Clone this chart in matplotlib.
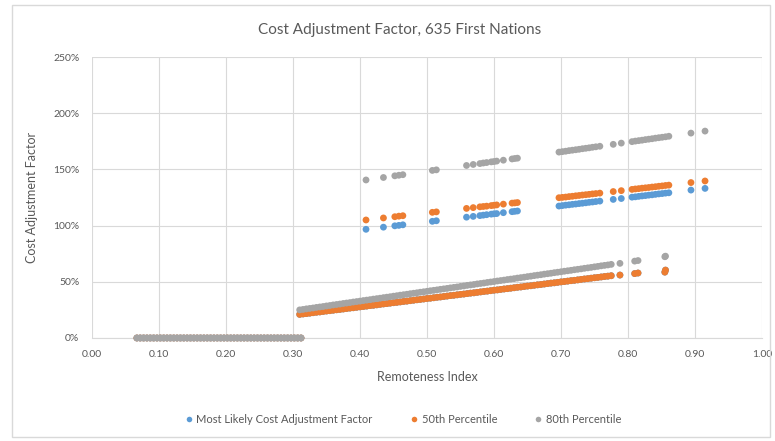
import matplotlib
matplotlib.use("Agg")
import matplotlib.pyplot as plt
from matplotlib.lines import Line2D
from matplotlib.patches import Rectangle
from matplotlib.ticker import FuncFormatter

plt.rcParams['font.family'] = ['Lato', 'DejaVu Sans']

TITLE = "Cost Adjustment Factor, 635 First Nations"
X_LABEL = "Remoteness Index"
Y_LABEL = "Cost Adjustment Factor"
SERIES = ["Most Likely Cost Adjustment Factor", "50th Percentile", "80th Percentile"]
COLORS = ["#5B9BD5", "#ED7D31", "#A5A5A5"]

# communities with remoteness index below ~0.31 -> factor 0%
x_zero = [0.067, 0.072, 0.077, 0.082, 0.087, 0.092, 0.097, 0.102, 0.107, 0.112,
          0.117, 0.122, 0.127, 0.132, 0.137, 0.142, 0.147, 0.152, 0.157, 0.162,
          0.167, 0.172, 0.177, 0.182, 0.187, 0.192, 0.197, 0.202, 0.207, 0.212,
          0.217, 0.222, 0.227, 0.232, 0.237, 0.242, 0.247, 0.252, 0.257, 0.262,
          0.267, 0.272, 0.277, 0.282, 0.287, 0.292, 0.297, 0.302, 0.307, 0.312]
y_zero = [0.0] * len(x_zero)

# dense lower band (values in %)
x_low = [0.310, 0.315, 0.320, 0.325, 0.330, 0.335, 0.340, 0.345, 0.350, 0.355,
         0.360, 0.365, 0.370, 0.375, 0.380, 0.385, 0.390, 0.395, 0.400, 0.405,
         0.410, 0.415, 0.420, 0.425, 0.430, 0.435, 0.440, 0.445, 0.450, 0.455,
         0.460, 0.465, 0.470, 0.475, 0.480, 0.485, 0.490, 0.495, 0.500, 0.505,
         0.510, 0.515, 0.520, 0.525, 0.530, 0.535, 0.540, 0.545, 0.550, 0.555,
         0.560, 0.565, 0.570, 0.575, 0.580, 0.585, 0.590, 0.595, 0.600, 0.605,
         0.610, 0.615, 0.620, 0.625, 0.630, 0.635, 0.640, 0.645, 0.650, 0.655,
         0.660, 0.665, 0.670, 0.675, 0.680, 0.685, 0.690, 0.695, 0.700, 0.705,
         0.710, 0.715, 0.720, 0.725, 0.730, 0.735, 0.740, 0.745, 0.750, 0.755,
         0.760, 0.765, 0.770, 0.775,
         0.788, 0.810, 0.815, 0.855, 0.856]
p50_low = [21.0, 21.4, 21.7, 22.1, 22.5, 22.9, 23.2, 23.6, 24.0, 24.3,
           24.7, 25.1, 25.4, 25.8, 26.2, 26.6, 26.9, 27.3, 27.7, 28.0,
           28.4, 28.8, 29.1, 29.5, 29.9, 30.3, 30.6, 31.0, 31.4, 31.7,
           32.1, 32.5, 32.8, 33.2, 33.6, 34.0, 34.3, 34.7, 35.1, 35.4,
           35.8, 36.2, 36.5, 36.9, 37.3, 37.7, 38.0, 38.4, 38.8, 39.1,
           39.5, 39.9, 40.2, 40.6, 41.0, 41.4, 41.7, 42.1, 42.5, 42.8,
           43.2, 43.6, 43.9, 44.3, 44.7, 45.1, 45.4, 45.8, 46.2, 46.5,
           46.9, 47.3, 47.6, 48.0, 48.4, 48.8, 49.1, 49.5, 49.9, 50.2,
           50.6, 51.0, 51.3, 51.7, 52.1, 52.5, 52.8, 53.2, 53.6, 53.9,
           54.3, 54.7, 55.0, 55.4,
           56.0, 57.3, 57.8, 58.6, 60.4]
p80_low = [25.0, 25.4, 25.9, 26.3, 26.7, 27.2, 27.6, 28.0, 28.5, 28.9,
           29.4, 29.8, 30.2, 30.7, 31.1, 31.5, 32.0, 32.4, 32.8, 33.3,
           33.7, 34.1, 34.6, 35.0, 35.4, 35.9, 36.3, 36.7, 37.2, 37.6,
           38.1, 38.5, 38.9, 39.4, 39.8, 40.2, 40.7, 41.1, 41.5, 42.0,
           42.4, 42.8, 43.3, 43.7, 44.1, 44.6, 45.0, 45.4, 45.9, 46.3,
           46.8, 47.2, 47.6, 48.1, 48.5, 48.9, 49.4, 49.8, 50.2, 50.7,
           51.1, 51.5, 52.0, 52.4, 52.8, 53.3, 53.7, 54.1, 54.6, 55.0,
           55.5, 55.9, 56.3, 56.8, 57.2, 57.6, 58.1, 58.5, 58.9, 59.4,
           59.8, 60.2, 60.7, 61.1, 61.5, 62.0, 62.4, 62.8, 63.3, 63.7,
           64.2, 64.6, 65.0, 65.5,
           66.4, 68.4, 68.9, 72.3, 72.8]
likely_low = p50_low

# upper cluster (values in %)
x_up = [0.409, 0.435, 0.452, 0.458, 0.464, 0.508, 0.514, 0.559, 0.569, 0.579,
        0.584, 0.589, 0.596, 0.600, 0.604, 0.614, 0.627, 0.631, 0.635, 0.697,
        0.702, 0.707, 0.712, 0.717, 0.722, 0.727, 0.732, 0.737, 0.742, 0.747,
        0.752, 0.758, 0.778, 0.790, 0.806, 0.811, 0.816, 0.821, 0.826, 0.831,
        0.836, 0.841, 0.846, 0.851, 0.856, 0.861, 0.894, 0.915]
likely_up = [96.7, 98.6, 99.8, 100.2, 100.7, 103.8, 104.3, 107.5, 108.2, 108.9,
             109.3, 109.7, 110.2, 110.5, 110.7, 111.5, 112.4, 112.7, 113.0, 117.4,
             117.8, 118.2, 118.5, 118.9, 119.2, 119.6, 119.9, 120.3, 120.7, 121.0,
             121.4, 121.8, 123.3, 124.1, 125.3, 125.6, 126.0, 126.4, 126.7, 127.1,
             127.4, 127.8, 128.2, 128.5, 128.9, 129.2, 131.6, 133.1]
p50_up = [105.0, 106.8, 107.9, 108.4, 108.8, 111.8, 112.2, 115.3, 116.0, 116.7,
          117.0, 117.3, 117.8, 118.1, 118.4, 119.1, 120.0, 120.2, 120.5, 124.8,
          125.1, 125.4, 125.8, 126.1, 126.5, 126.8, 127.2, 127.5, 127.8, 128.2,
          128.5, 128.9, 130.3, 131.1, 132.2, 132.6, 132.9, 133.3, 133.6, 133.9,
          134.3, 134.6, 135.0, 135.3, 135.7, 136.0, 138.3, 139.7]
p80_up = [140.6, 142.8, 144.3, 144.8, 145.3, 149.1, 149.6, 153.5, 154.4, 155.2,
          155.7, 156.1, 156.7, 157.0, 157.4, 158.2, 159.3, 159.7, 160.0, 165.4,
          165.8, 166.2, 166.7, 167.1, 167.5, 167.9, 168.4, 168.8, 169.2, 169.7,
          170.1, 170.6, 172.3, 173.4, 174.7, 175.2, 175.6, 176.0, 176.5, 176.9,
          177.3, 177.8, 178.2, 178.6, 179.0, 179.5, 182.3, 184.1]

x_ticks = [0.0, 0.1, 0.2, 0.3, 0.4, 0.5, 0.6, 0.7, 0.8, 0.9, 1.0]
y_ticks = [0, 50, 100, 150, 200, 250]

TEXT = "#595959"
GRID = "#D9D9D9"

fig = plt.figure(figsize=(7.75, 4.41), dpi=100)
fig.patches.append(Rectangle((0.016, 0.008), 0.978, 0.98, transform=fig.transFigure,
                             fill=False, edgecolor=GRID, linewidth=1))
ax = fig.add_axes([0.1187, 0.2336, 0.8645, 0.6371])

all_x = x_zero + x_low + x_up
series_y = [
    y_zero + likely_low + likely_up,
    y_zero + p50_low + p50_up,
    y_zero + p80_low + p80_up,
]
for ys, color in zip(series_y, COLORS):
    ax.scatter(all_x, ys, s=24, color=color, edgecolors='none', zorder=3,
               clip_on=False)

ax.set_xlim(0, 1)
ax.set_ylim(0, 250)
ax.set_xticks(x_ticks)
ax.set_yticks(y_ticks)
ax.xaxis.set_major_formatter(FuncFormatter(lambda v, p: f"{v:.2f}"))
ax.yaxis.set_major_formatter(FuncFormatter(lambda v, p: f"{v:.0f}%"))
ax.tick_params(length=0, labelsize=7.5, colors=TEXT)
ax.tick_params(axis='x', pad=9)
ax.tick_params(axis='y', pad=9)
ax.grid(True, color=GRID, linewidth=0.8)
ax.set_axisbelow(True)
for side in ['top', 'right', 'left']:
    ax.spines[side].set_visible(False)
ax.spines['bottom'].set_color(GRID)

ax.set_xlabel(X_LABEL, fontsize=9, color=TEXT, labelpad=8)
ax.set_ylabel(Y_LABEL, fontsize=9, color=TEXT, labelpad=11)
fig.text(0.516, 0.932, TITLE, ha='center', va='center', fontsize=11, color=TEXT)

handles = [Line2D([], [], marker='o', linestyle='none', markersize=4,
                  markerfacecolor=c, markeredgecolor='none') for c in COLORS]
fig.legend(handles, SERIES, loc='center', bbox_to_anchor=(0.519, 0.048), ncol=3,
           frameon=False, fontsize=8, labelcolor=TEXT, handletextpad=0.2,
           columnspacing=3.2, handlelength=1.0)

fig.savefig("out.png", dpi=100)
